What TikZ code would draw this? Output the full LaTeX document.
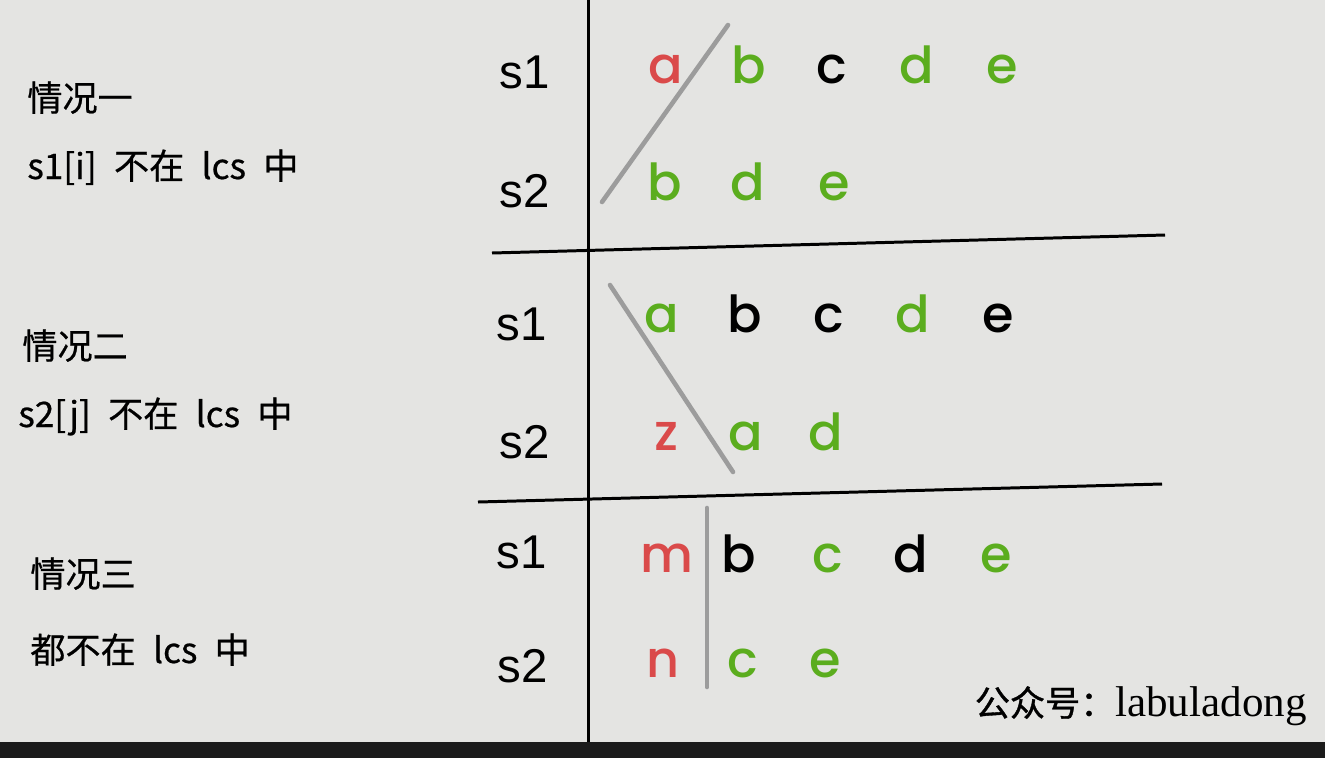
\documentclass[tikz,border=0pt]{standalone}
\usepackage{fontspec}
\setmainfont{Liberation Sans}
\newfontfamily\cjk{Noto Sans CJK SC}[WordSpace=2.2, FakeBold=0.6]
\newfontfamily\wmcjk{Noto Sans CJK SC}[FakeBold=1]
\newfontfamily\letterfont{Poppins}[UprightFont=* Medium]
\newfontfamily\wmfont{Liberation Serif}
\definecolor{bg}{HTML}{E4E4E2}
\definecolor{bar}{HTML}{1B1B1B}
\definecolor{lred}{HTML}{DA4A4A}
\definecolor{lgreen}{HTML}{5BAD1E}
\definecolor{strike}{HTML}{9C9C9C}
\begin{document}
\begin{tikzpicture}[x=0.02cm,y=-0.02cm,
ch/.style={anchor=base, inner sep=0pt, font=\letterfont\fontsize{29}{34}\selectfont},
rd/.style={ch, text=lred},
gn/.style={ch, text=lgreen},
bk/.style={ch, text=black},
sname/.style={anchor=base, inner sep=0pt, font=\fontsize{27}{32}\selectfont},
casetext/.style={anchor=base west, inner sep=0pt, font=\cjk\fontsize{20}{24}\selectfont},
rule/.style={line width=1.7pt, black},
cross/.style={line width=2.6pt, strike, line cap=round}]
\fill[bg] (0,0) rectangle (1325,742);
\fill[bar] (0,742) rectangle (1325,758);
\useasboundingbox (0,0) rectangle (1325,758);
\coordinate (vtop) at (588,0);
\coordinate (vbot) at (588,742);
\coordinate (h1l) at (492,253);
\coordinate (h1r) at (1165,235);
\coordinate (h2l) at (478,502);
\coordinate (h2r) at (1162,484);
\draw[rule] (vtop) -- (vbot);
\draw[rule] (h1l) -- (h1r);
\draw[rule] (h2l) -- (h2r);
\node[casetext] (case1) at (27,111) {情况一};
\node[casetext] (why1) at (27,179) {s1[i] 不在 lcs 中};
\node[casetext] (case2) at (22,359) {情况二};
\node[casetext] (why2) at (18,427) {s2[j] 不在 lcs 中};
\node[casetext] (case3) at (30,587) {情况三};
\node[casetext] (why3) at (30,663) {都不在 lcs 中};
\node[sname] (sa1) at (525,88) {s1};
\node[sname] (sa2) at (525,207) {s2};
\node[sname] (sb1) at (522,340) {s1};
\node[sname] (sb2) at (525,458) {s2};
\node[sname] (sc1) at (522,568) {s1};
\node[sname] (sc2) at (523,682) {s2};
\node[rd] (t1a) at (666,83) {a};
\node[gn] (t1b) at (749,83) {b};
\node[bk] (t1c) at (832,83) {c};
\node[gn] (t1d) at (917,83) {d};
\node[gn] (t1e) at (1002,83) {e};
\node[gn] (b1b) at (665,200) {b};
\node[gn] (b1d) at (748,200) {d};
\node[gn] (b1e) at (834,200) {e};
\coordinate (x1s) at (602,202);
\coordinate (x1e) at (728,25);
\draw[cross] (x1s) -- (x1e);
\node[gn] (t2a) at (662,332) {a};
\node[bk] (t2b) at (745,332) {b};
\node[bk] (t2c) at (829,332) {c};
\node[gn] (t2d) at (913,332) {d};
\node[bk] (t2e) at (998,332) {e};
\node[rd] (b2z) at (666,450) {z};
\node[gn] (b2a) at (746,450) {a};
\node[gn] (b2d) at (826,450) {d};
\coordinate (x2s) at (610,285);
\coordinate (x2e) at (733,472);
\draw[cross] (x2s) -- (x2e);
\node[rd] (t3m) at (667,572) {m};
\node[bk] (t3b) at (739,572) {b};
\node[gn] (t3c) at (828,572) {c};
\node[bk] (t3d) at (911,572) {d};
\node[gn] (t3e) at (996,572) {e};
\node[rd] (b3n) at (663,677) {n};
\node[gn] (b3c) at (743,677) {c};
\node[gn] (b3e) at (825,677) {e};
\coordinate (x3s) at (707,508);
\coordinate (x3e) at (707,687);
\draw[cross] (x3s) -- (x3e);
\node[anchor=base east, inner sep=0pt] (mark) at (1307,716) {{\wmcjk\fontsize{20}{24}\selectfont 公众号：}{\wmfont\fontsize{24.5}{28}\selectfont labuladong}};
\end{tikzpicture}
\end{document}
